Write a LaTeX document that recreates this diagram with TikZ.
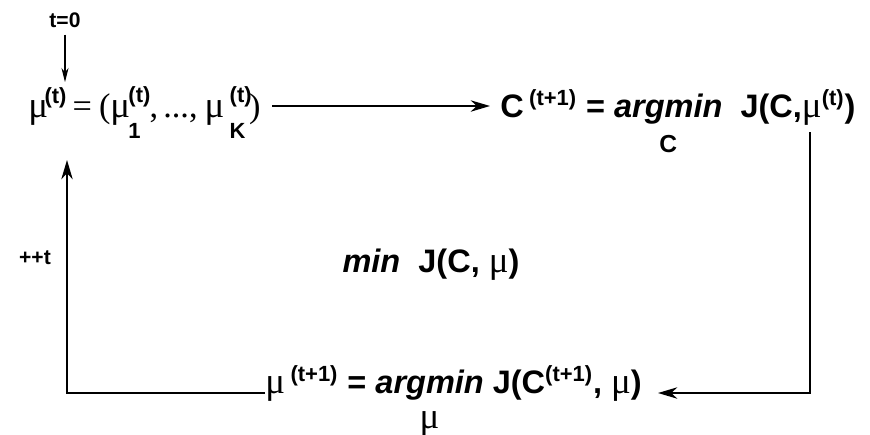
\documentclass[tikz,border=0pt]{standalone}
\usepackage{amsmath}
\usepackage{fontspec}
\setmainfont{Liberation Sans}
\newfontfamily\greekf{Liberation Serif}
\newfontfamily\sansf{Liberation Sans}
\usetikzlibrary{arrows.meta}

\newcommand{\mug}{{\greekf\mdseries\upshape\fontsize{21}{22}\selectfont μ}}
\newcommand{\supf}{\sansf\fontsize{12.5}{13}\selectfont\bfseries\upshape}
\newcommand{\up}[1]{$^{\hbox{\supf #1}}$}
\newcommand{\upsub}[2]{$^{\hbox{\raisebox{1pt}{\supf #1}}}_{\hbox{\raisebox{-7pt}{\supf #2}}}$}
\newcommand{\argminof}[1]{$\mathop{\hbox{\bfseries\itshape argmin}}\limits_{\hbox{\raisebox{-6pt}{#1}}}$}

\begin{document}
\begin{tikzpicture}[
  x=0.02cm, y=-0.02cm,
  every node/.style={inner sep=0pt, font=\fontsize{18.5}{20}\selectfont\bfseries},
  small/.style={font=\fontsize{12}{13}\selectfont\bfseries},
  arr/.style={-{Stealth[length=11pt, width=6.5pt, inset=3.5pt]}, line width=1.1pt},
  thinarr/.style={-{Stealth[length=8pt, width=4pt, inset=2.5pt]}, line width=0.6pt}
]
  \useasboundingbox (0,0) rectangle (870,434);

  % Update steps
  \node[small, anchor=base] (start) at (65,27) {t=0};
  \node[anchor=base west, font=\fontsize{19.5}{21}\selectfont\greekf] (init) at (28,117)
    {\mug\kern-2pt\up{(t)}\kern3pt=\kern4pt(\mug\kern-1pt\upsub{(t)}{1}\kern-1pt,\kern3pt...,\kern4pt\mug\kern3pt\upsub{(t)}{K}\kern-2pt)};
  \node[anchor=base west] (cstep) at (500,117)
    {C\,\up{(t+1)} = \argminof{{\fontsize{14}{15}\selectfont C}}\ \ J(C,\mug\up{(t)})};
  \node[anchor=base west] (mustep) at (265,393)
    {\mug\,\up{(t+1)} = \argminof{{\fontsize{17}{18}\selectfont\mug}} J(C\up{(t+1)}, \mug)};

  % Objective and counter
  \node[anchor=base] (obj) at (431,272) {\textit{min}\ \ J(C, \mug)};
  \node[small, anchor=base] (inc) at (35,264) {++t};

  % Loop corners
  \coordinate (rtop) at (810,132);
  \coordinate (rbot) at (810,393);
  \coordinate (lbot) at (67,393);

  % Arrows
  \draw[thinarr] (start.south) ++(0,7) -- (65,82);
  \draw[arr] (272,106) -- (490,106);
  \draw[arr] (rtop) -- (rbot) -- (658,393);
  \draw[arr] (mustep.west |- rbot) -- (lbot) -- (67,160);
\end{tikzpicture}
\end{document}
